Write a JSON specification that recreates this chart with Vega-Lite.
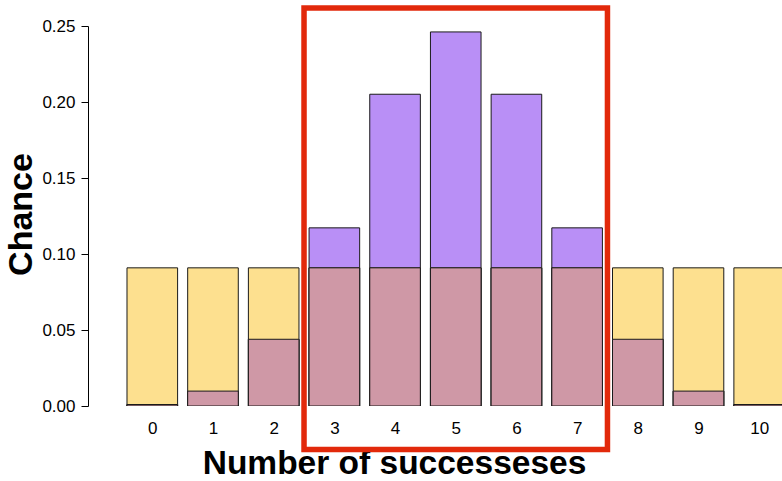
{
  "$schema": "https://vega.github.io/schema/vega-lite/v6.json",
  "autosize": {"type": "none"},
  "width": 694,
  "height": 380,
  "padding": {"left": 88, "top": 26, "right": 0, "bottom": 75},
  "background": "white",
  "config": {
    "view": {"stroke": null},
    "font": "Liberation Sans"
  },
  "datasets": {
    "outcomes": [
      {"k": 0, "binom": 0.00098, "uniform": 0.0909, "both": 0.00098},
      {"k": 1, "binom": 0.0098, "uniform": 0.0909, "both": 0.0098},
      {"k": 2, "binom": 0.0439, "uniform": 0.0909, "both": 0.0439},
      {"k": 3, "binom": 0.1172, "uniform": 0.0909, "both": 0.0909},
      {"k": 4, "binom": 0.2051, "uniform": 0.0909, "both": 0.0909},
      {"k": 5, "binom": 0.2461, "uniform": 0.0909, "both": 0.0909},
      {"k": 6, "binom": 0.2051, "uniform": 0.0909, "both": 0.0909},
      {"k": 7, "binom": 0.1172, "uniform": 0.0909, "both": 0.0909},
      {"k": 8, "binom": 0.0439, "uniform": 0.0909, "both": 0.0439},
      {"k": 9, "binom": 0.0098, "uniform": 0.0909, "both": 0.0098},
      {"k": 10, "binom": 0.00098, "uniform": 0.0909, "both": 0.00098}
    ],
    "highlight": [
      {"lo": 2.5, "hi": 7.5, "bottom": -0.0286, "top": 0.2618}
    ]
  },
  "layer": [
    {
      "data": {"name": "outcomes"},
      "mark": {"type": "bar", "width": 50.6, "fill": "#b98ff6", "stroke": "#1a1a1a", "strokeWidth": 1, "clip": true},
      "encoding": {
        "x": {
          "field": "k", "type": "quantitative",
          "scale": {"domain": [-1.0595, 10.376], "nice": false, "zero": false, "padding": 0},
          "axis": {
            "values": [0, 1, 2, 3, 4, 5, 6, 7, 8, 9, 10],
            "format": "d",
            "ticks": false,
            "domain": false,
            "grid": false,
            "labelFontSize": 17,
            "labelColor": "#000",
            "labelPadding": 14,
            "title": "Number of successeses",
            "titleFontSize": 33.5,
            "titleFontWeight": "bold",
            "titleColor": "#000",
            "titleX": 306,
            "titleY": 67,
            "titleAlign": "center",
            "titleBaseline": "alphabetic"
          }
        },
        "y": {
          "field": "binom", "type": "quantitative",
          "scale": {"domain": [0, 0.25], "nice": false},
          "axis": {
            "values": [0, 0.05, 0.1, 0.15, 0.2, 0.25],
            "format": ".2f",
            "grid": false,
            "tickSize": 7,
            "tickColor": "#000",
            "domainColor": "#000",
            "labelFontSize": 17,
            "labelColor": "#000",
            "labelPadding": 6,
            "title": "Chance",
            "titleFontSize": 34,
            "titleFontWeight": "bold",
            "titleColor": "#000",
            "titleAngle": 270,
            "titleX": -57,
            "titleY": 188,
            "titleAlign": "center",
            "titleBaseline": "alphabetic"
          }
        }
      }
    },
    {
      "data": {"name": "outcomes"},
      "mark": {"type": "bar", "width": 50.6, "fill": "#fde08f", "stroke": "#1a1a1a", "strokeWidth": 1, "clip": true},
      "encoding": {
        "x": {"field": "k", "type": "quantitative"},
        "y": {"field": "uniform", "type": "quantitative"}
      }
    },
    {
      "data": {"name": "outcomes"},
      "mark": {"type": "bar", "width": 50.6, "fill": "#cf98a6", "stroke": "#1a1a1a", "strokeWidth": 1, "clip": true},
      "encoding": {
        "x": {"field": "k", "type": "quantitative"},
        "y": {"field": "both", "type": "quantitative"}
      }
    },
    {
      "data": {"name": "highlight"},
      "mark": {"type": "rect", "fill": null, "stroke": "#e2290b", "strokeWidth": 5.5, "clip": false},
      "encoding": {
        "x": {"field": "lo", "type": "quantitative"},
        "x2": {"field": "hi"},
        "y": {"field": "bottom", "type": "quantitative"},
        "y2": {"field": "top"}
      }
    }
  ]
}
